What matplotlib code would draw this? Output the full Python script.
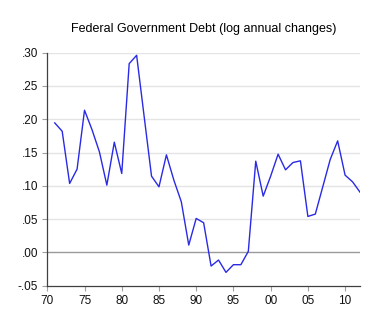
import matplotlib
matplotlib.use("Agg")
import matplotlib.pyplot as plt
from matplotlib.ticker import FuncFormatter

# years 1971-2012 (two-digit axis, 70 = 1970)
years = list(range(71, 113))
debt_change = [0.1945, 0.182, 0.1035, 0.125, 0.2135, 0.1845, 0.151, 0.101, 0.1655, 0.1185,
               0.2835, 0.296, 0.205, 0.1145, 0.0985, 0.1465, 0.1085, 0.076, 0.011, 0.051,
               0.0445, -0.0205, -0.0115, -0.030, -0.0185, -0.0185, 0.0015, 0.137, 0.0845, 0.1145,
               0.1475, 0.124, 0.135, 0.1375, 0.054, 0.0575, 0.0985, 0.1395, 0.1675, 0.116,
               0.106, 0.0905]
xticks = [70, 75, 80, 85, 90, 95, 100, 105, 110]
xlabels = ["70", "75", "80", "85", "90", "95", "00", "05", "10"]
yticks = [-0.05, 0.0, 0.05, 0.10, 0.15, 0.20, 0.25, 0.30]

plt.rcParams['font.family'] = ['Liberation Sans', 'DejaVu Sans']

fig = plt.figure(figsize=(3.87, 3.25), dpi=100)
ax = fig.add_axes([0.1222, 0.121, 0.808, 0.717])

for v in yticks[1:]:
    if v == 0.0:
        ax.axhline(v, color="#9a9a9a", lw=1.0, zorder=1)
    else:
        ax.axhline(v, color="#e4e4e4", lw=1.0, zorder=1)

ax.plot(years, debt_change, color="#2a2ae6", lw=1.0, zorder=3)

ax.set_xlim(70, 112)
ax.set_ylim(-0.05, 0.30)
ax.set_xticks(xticks)
ax.set_xticklabels(xlabels)
ax.set_yticks(yticks)

def fmt(v, pos):
    s = "%.2f" % v
    s = s.replace("0.", ".")
    return s

ax.yaxis.set_major_formatter(FuncFormatter(fmt))
ax.tick_params(axis="both", labelsize=8.5, length=3.5, width=0.8, direction="out",
               pad=3, color="#a0a0a0", labelcolor="#111111")
ax.spines["top"].set_visible(False)
ax.spines["right"].set_visible(False)
for s in ["left", "bottom"]:
    ax.spines[s].set_linewidth(0.9)
    ax.spines[s].set_color("#404040")

fig.text(0.526, 0.911, "Federal Government Debt (log annual changes)", ha="center", va="center", fontsize=9)

fig.savefig("out.png", dpi=100)
